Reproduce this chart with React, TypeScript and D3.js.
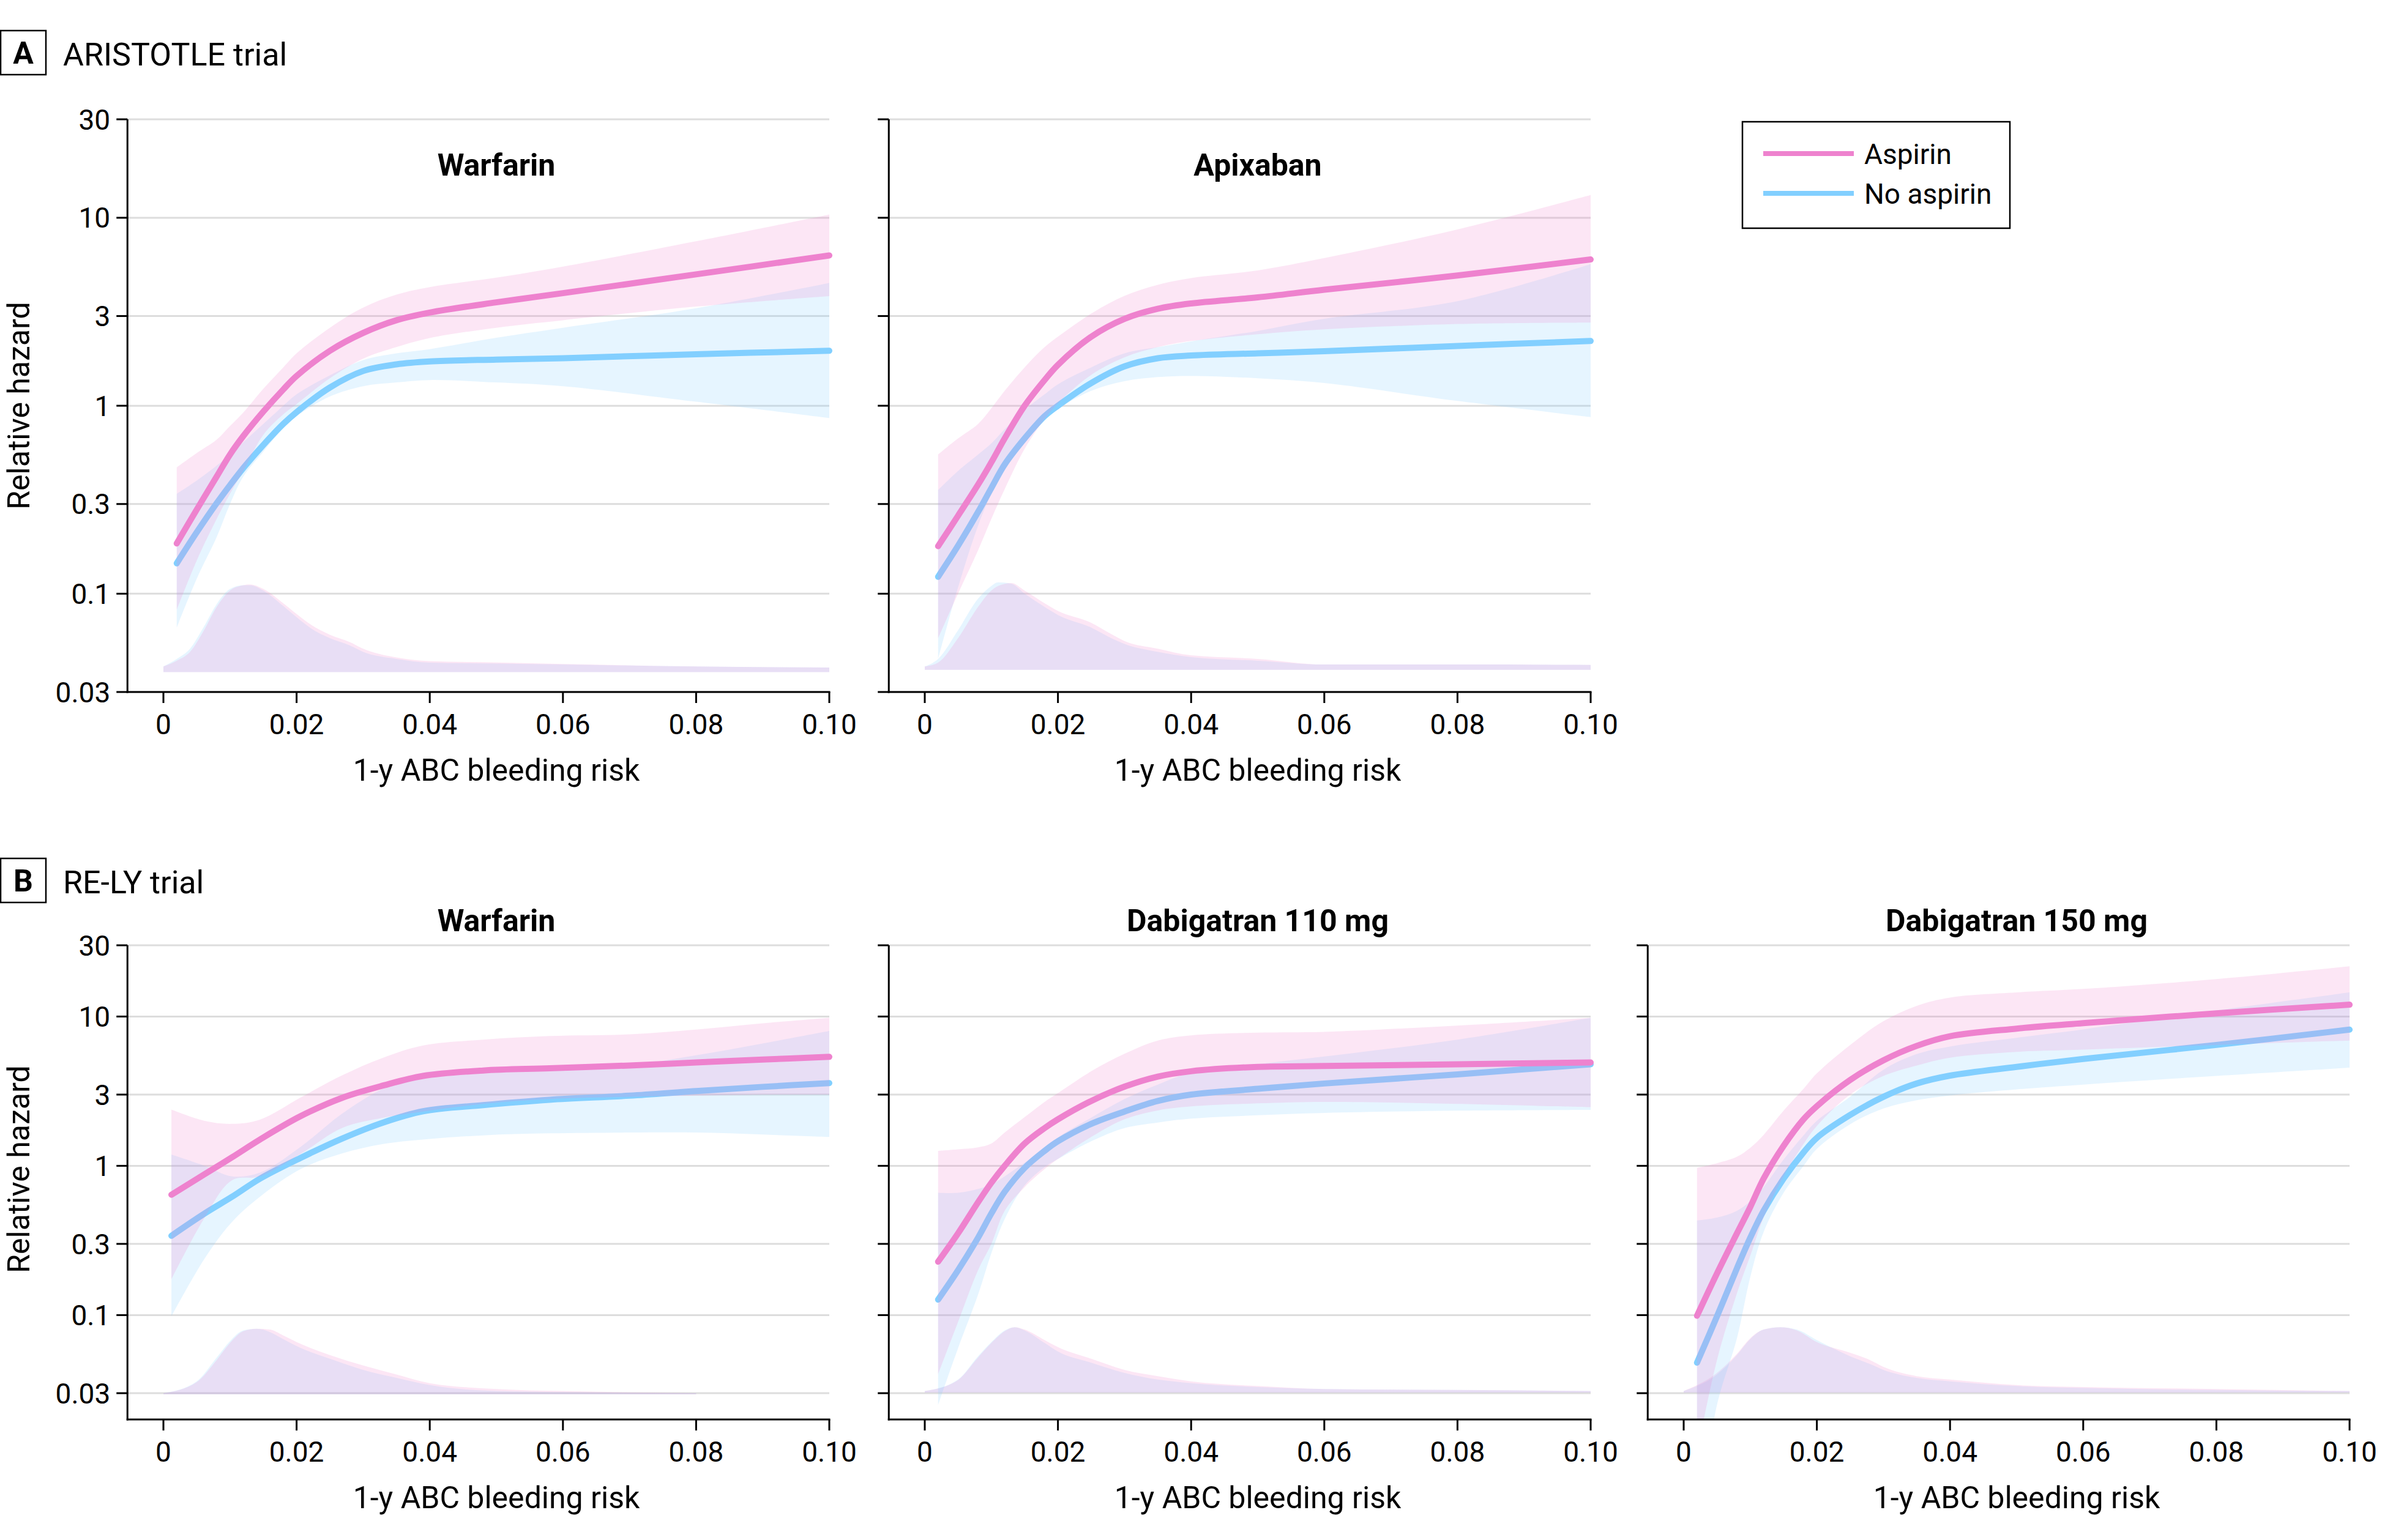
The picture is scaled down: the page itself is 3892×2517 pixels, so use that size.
import React from "react";
import * as d3 from "d3";

// ---------- ticks ----------
const xTickValues = [0, 0.02, 0.04, 0.06, 0.08, 0.1];
const xTickLabels = ["0", "0.02", "0.04", "0.06", "0.08", "0.10"];
const yTickValuesA = [0.03, 0.1, 0.3, 1, 3, 10, 33.4];
const yTickValuesB = [0.03, 0.1, 0.3, 1, 3, 10, 30];
const yTickLabels = ["0.03", "0.1", "0.3", "1", "3", "10", "30"];

// ---------- A: ARISTOTLE, Warfarin ----------
const aWarX = [0.002, 0.005, 0.008, 0.01, 0.012, 0.015, 0.018, 0.02, 0.025, 0.03, 0.035, 0.04, 0.05, 0.06, 0.08, 0.1];
const aWarAsp = [0.185, 0.28, 0.42, 0.55, 0.69, 0.93, 1.22, 1.44, 1.96, 2.44, 2.85, 3.13, 3.55, 3.97, 5.0, 6.3];
const aWarAspLo = [0.082, 0.15, 0.25, 0.34, 0.45, 0.7, 0.9, 1.02, 1.4, 1.78, 2.05, 2.29, 2.6, 2.85, 3.37, 3.83];
const aWarAspHi = [0.47, 0.56, 0.66, 0.78, 0.92, 1.23, 1.6, 1.9, 2.6, 3.33, 3.9, 4.28, 4.8, 5.5, 7.5, 10.4];
const aWarNo = [0.145, 0.212, 0.303, 0.378, 0.466, 0.618, 0.8, 0.925, 1.25, 1.53, 1.66, 1.72, 1.76, 1.79, 1.88, 1.96];
const aWarNoLo = [0.066, 0.12, 0.2, 0.3, 0.42, 0.57, 0.76, 0.88, 1.12, 1.27, 1.33, 1.37, 1.33, 1.27, 1.05, 0.86];
const aWarNoHi = [0.34, 0.4, 0.48, 0.55, 0.64, 0.8, 1.0, 1.15, 1.45, 1.75, 1.9, 2.0, 2.3, 2.6, 3.3, 4.5];
const aWarDensX = [0, 0.002, 0.004, 0.006, 0.008, 0.01, 0.012, 0.013, 0.015, 0.018, 0.02, 0.022, 0.025, 0.028, 0.03, 0.035, 0.04, 0.05, 0.06, 0.08, 0.1];
const aWarDensAsp = [0.041, 0.044, 0.049, 0.063, 0.085, 0.104, 0.111, 0.112, 0.106, 0.089, 0.078, 0.069, 0.0605, 0.0553, 0.051, 0.0458, 0.0438, 0.0431, 0.0423, 0.041, 0.0405];
const aWarDensNo = [0.041, 0.045, 0.051, 0.066, 0.088, 0.106, 0.111, 0.111, 0.104, 0.086, 0.075, 0.066, 0.058, 0.053, 0.049, 0.045, 0.043, 0.0425, 0.042, 0.041, 0.0405];

// ---------- A: ARISTOTLE, Apixaban ----------
const aApiX = [0.002, 0.005, 0.008, 0.01, 0.012, 0.015, 0.018, 0.02, 0.025, 0.03, 0.035, 0.04, 0.05, 0.06, 0.08, 0.1];
const aApiAsp = [0.179, 0.26, 0.38, 0.5, 0.67, 1.0, 1.37, 1.65, 2.33, 2.9, 3.28, 3.5, 3.77, 4.14, 4.93, 6.0];
const aApiAspLo = [0.058, 0.1, 0.17, 0.25, 0.36, 0.59, 0.85, 1.03, 1.46, 1.81, 2.05, 2.21, 2.4, 2.55, 2.72, 2.77];
const aApiAspHi = [0.55, 0.67, 0.8, 0.97, 1.2, 1.6, 2.05, 2.33, 3.09, 3.84, 4.4, 4.78, 5.25, 6.1, 8.66, 13.2];
const aApiNo = [0.123, 0.18, 0.272, 0.365, 0.487, 0.67, 0.88, 1.0, 1.32, 1.62, 1.79, 1.85, 1.9, 1.95, 2.08, 2.21];
const aApiNoLo = [0.045, 0.108, 0.23, 0.34, 0.46, 0.64, 0.84, 0.96, 1.2, 1.35, 1.42, 1.44, 1.4, 1.32, 1.06, 0.87];
const aApiNoHi = [0.356, 0.45, 0.55, 0.63, 0.75, 0.95, 1.15, 1.3, 1.6, 1.9, 2.05, 2.2, 2.5, 2.9, 3.6, 5.66];
const aApiDensX = [0, 0.002, 0.005, 0.008, 0.01, 0.011, 0.013, 0.015, 0.018, 0.02, 0.025, 0.028, 0.03, 0.035, 0.04, 0.05, 0.06, 0.08, 0.1];
const aApiDensAsp = [0.041, 0.043, 0.058, 0.085, 0.104, 0.11, 0.114, 0.104, 0.089, 0.081, 0.07, 0.061, 0.056, 0.051, 0.047, 0.045, 0.042, 0.042, 0.0418];
const aApiDensNo = [0.041, 0.045, 0.064, 0.094, 0.11, 0.115, 0.113, 0.1, 0.085, 0.077, 0.066, 0.058, 0.054, 0.049, 0.046, 0.044, 0.042, 0.042, 0.0418];

// ---------- B: RE-LY, Warfarin ----------
const bWarX = [0.0012, 0.0062, 0.0103, 0.0145, 0.0206, 0.0268, 0.033, 0.039, 0.048, 0.058, 0.07, 0.08, 0.09, 0.1];
const bWarAsp = [0.64, 0.88, 1.14, 1.5, 2.15, 2.85, 3.45, 4.0, 4.35, 4.5, 4.7, 4.92, 5.15, 5.37];
const bWarAspLo = [0.174, 0.45, 0.8, 0.85, 1.2, 1.79, 2.1, 2.31, 2.6, 2.8, 2.9, 2.95, 3.0, 3.0];
const bWarAspHi = [2.38, 2.0, 1.91, 2.04, 2.87, 4.03, 5.3, 6.4, 7.0, 7.4, 7.6, 8.17, 9.0, 9.8];
const bWarNo = [0.34, 0.48, 0.62, 0.82, 1.13, 1.52, 1.95, 2.32, 2.55, 2.77, 2.95, 3.17, 3.38, 3.58];
const bWarNoLo = [0.098, 0.24, 0.42, 0.62, 0.95, 1.21, 1.4, 1.5, 1.6, 1.65, 1.67, 1.67, 1.62, 1.56];
const bWarNoHi = [1.19, 1.0, 0.85, 0.9, 1.34, 2.23, 3.3, 4.2, 4.35, 4.4, 4.7, 5.5, 6.6, 8.0];
const bWarDensX = [0, 0.005, 0.008, 0.01, 0.012, 0.014, 0.016, 0.018, 0.02, 0.025, 0.03, 0.035, 0.04, 0.05, 0.06, 0.08];
const bWarDensAsp = [0.03, 0.0356, 0.05, 0.065, 0.078, 0.081, 0.08, 0.073, 0.066, 0.054, 0.046, 0.04, 0.035, 0.032, 0.031, 0.03];
const bWarDensNo = [0.03, 0.036, 0.052, 0.067, 0.079, 0.081, 0.077, 0.069, 0.062, 0.051, 0.043, 0.038, 0.034, 0.031, 0.0305, 0.03];

// ---------- B: RE-LY, Dabigatran 110 mg ----------
const bD110X = [0.002, 0.005, 0.008, 0.01, 0.012, 0.015, 0.018, 0.02, 0.025, 0.03, 0.035, 0.04, 0.05, 0.06, 0.08, 0.1];
const bD110Asp = [0.228, 0.353, 0.57, 0.77, 1.0, 1.41, 1.79, 2.05, 2.72, 3.39, 3.96, 4.3, 4.6, 4.66, 4.79, 4.92];
const bD110AspLo = [0.04, 0.09, 0.2, 0.3, 0.5, 0.72, 0.95, 1.11, 1.56, 2.05, 2.35, 2.5, 2.62, 2.68, 2.6, 2.47];
const bD110AspHi = [1.26, 1.29, 1.33, 1.41, 1.67, 2.12, 2.68, 3.07, 4.3, 5.63, 6.9, 7.48, 7.8, 7.9, 8.7, 9.8];
const bD110No = [0.127, 0.2, 0.33, 0.48, 0.67, 0.97, 1.26, 1.46, 1.91, 2.31, 2.72, 3.0, 3.28, 3.56, 4.1, 4.79];
const bD110NoLo = [0.025, 0.06, 0.137, 0.26, 0.44, 0.74, 0.98, 1.11, 1.46, 1.79, 1.95, 2.07, 2.18, 2.26, 2.34, 2.37];
const bD110NoHi = [0.66, 0.66, 0.7, 0.75, 0.85, 1.05, 1.3, 1.55, 2.1, 2.8, 3.5, 4.2, 4.8, 5.4, 7.0, 9.8];
const bD110DensX = [0, 0.005, 0.008, 0.01, 0.012, 0.0135, 0.015, 0.018, 0.02, 0.025, 0.03, 0.035, 0.04, 0.05, 0.06, 0.08, 0.1];
const bD110DensAsp = [0.031, 0.0368, 0.052, 0.065, 0.078, 0.083, 0.08, 0.068, 0.061, 0.051, 0.043, 0.039, 0.036, 0.0335, 0.032, 0.0315, 0.031];
const bD110DensNo = [0.031, 0.037, 0.053, 0.066, 0.079, 0.083, 0.079, 0.065, 0.057, 0.048, 0.041, 0.037, 0.035, 0.033, 0.032, 0.0315, 0.031];

// ---------- B: RE-LY, Dabigatran 150 mg ----------
const bD150X = [0.002, 0.005, 0.008, 0.01, 0.012, 0.015, 0.018, 0.02, 0.025, 0.03, 0.035, 0.04, 0.05, 0.06, 0.08, 0.1];
const bD150Asp = [0.099, 0.19, 0.353, 0.53, 0.82, 1.36, 2.05, 2.51, 3.76, 5.09, 6.36, 7.38, 8.3, 9.03, 10.5, 12.0];
const bD150AspLo = [0.012, 0.05, 0.14, 0.25, 0.45, 0.85, 1.4, 1.85, 3.0, 4.0, 4.7, 5.3, 5.8, 6.0, 6.45, 6.9];
const bD150AspHi = [0.97, 1.04, 1.15, 1.32, 1.61, 2.34, 3.28, 4.16, 6.45, 9.3, 11.8, 13.4, 14.5, 15.3, 17.8, 21.7];
const bD150No = [0.048, 0.098, 0.206, 0.33, 0.5, 0.82, 1.23, 1.54, 2.19, 2.9, 3.56, 4.02, 4.6, 5.2, 6.45, 8.17];
const bD150NoLo = [0.004, 0.025, 0.07, 0.18, 0.36, 0.66, 1.0, 1.3, 1.9, 2.42, 2.75, 2.96, 3.25, 3.5, 4.0, 4.54];
const bD150NoHi = [0.43, 0.45, 0.5, 0.58, 0.72, 1.1, 1.6, 2.0, 2.9, 4.4, 5.6, 6.3, 7.2, 8.2, 11.0, 14.5];
const bD150DensX = [0, 0.005, 0.008, 0.01, 0.012, 0.0145, 0.017, 0.02, 0.025, 0.028, 0.03, 0.035, 0.04, 0.05, 0.06, 0.08, 0.1];
const bD150DensAsp = [0.031, 0.041, 0.055, 0.07, 0.08, 0.083, 0.079, 0.066, 0.056, 0.05, 0.045, 0.039, 0.037, 0.034, 0.033, 0.032, 0.031];
const bD150DensNo = [0.031, 0.04, 0.054, 0.069, 0.08, 0.083, 0.08, 0.068, 0.053, 0.047, 0.043, 0.038, 0.036, 0.0335, 0.0325, 0.0315, 0.031];

const densityBaseA = [0.0383, 0.0394];
const densityBaseB = [0.0295, 0.0303, 0.0303];

const panelTitles = ["Warfarin", "Apixaban", "Warfarin", "Dabigatran 110 mg", "Dabigatran 150 mg"];
const legendLabels = ["Aspirin", "No aspirin"];

// ---------- style ----------
const PINK = "#EE82CE";
const BLUE = "#82CFFF";
const GRID = "#DDDDDD";
const FONT = "Roboto, 'Liberation Sans', sans-serif";
const BAND_OP = 0.2;

const colX0 = [267, 1511, 2751];
const PW = 1088;
const rowA = { top: 195, bottom: 1131, domain: [0.03, 33.4] as [number, number], ticks: yTickValuesA };
const rowB = { top: 1545, bottom: 2320, domain: [0.02, 30] as [number, number], ticks: yTickValuesB };

type Panel = {
  key: string; row: typeof rowA; col: number; title: string; titleY: number;
  x: number[]; asp: number[]; aspLo: number[]; aspHi: number[];
  no: number[]; noLo: number[]; noHi: number[];
  dx: number[]; dAsp: number[]; dNo: number[]; dBase: number;
};

const panels: Panel[] = [
  { key: "aw", row: rowA, col: 0, title: panelTitles[0], titleY: 287, x: aWarX, asp: aWarAsp, aspLo: aWarAspLo, aspHi: aWarAspHi, no: aWarNo, noLo: aWarNoLo, noHi: aWarNoHi, dx: aWarDensX, dAsp: aWarDensAsp, dNo: aWarDensNo, dBase: densityBaseA[0] },
  { key: "aa", row: rowA, col: 1, title: panelTitles[1], titleY: 287, x: aApiX, asp: aApiAsp, aspLo: aApiAspLo, aspHi: aApiAspHi, no: aApiNo, noLo: aApiNoLo, noHi: aApiNoHi, dx: aApiDensX, dAsp: aApiDensAsp, dNo: aApiDensNo, dBase: densityBaseA[1] },
  { key: "bw", row: rowB, col: 0, title: panelTitles[2], titleY: 1522, x: bWarX, asp: bWarAsp, aspLo: bWarAspLo, aspHi: bWarAspHi, no: bWarNo, noLo: bWarNoLo, noHi: bWarNoHi, dx: bWarDensX, dAsp: bWarDensAsp, dNo: bWarDensNo, dBase: densityBaseB[0] },
  { key: "b110", row: rowB, col: 1, title: panelTitles[3], titleY: 1522, x: bD110X, asp: bD110Asp, aspLo: bD110AspLo, aspHi: bD110AspHi, no: bD110No, noLo: bD110NoLo, noHi: bD110NoHi, dx: bD110DensX, dAsp: bD110DensAsp, dNo: bD110DensNo, dBase: densityBaseB[1] },
  { key: "b150", row: rowB, col: 2, title: panelTitles[4], titleY: 1522, x: bD150X, asp: bD150Asp, aspLo: bD150AspLo, aspHi: bD150AspHi, no: bD150No, noLo: bD150NoLo, noHi: bD150NoHi, dx: bD150DensX, dAsp: bD150DensAsp, dNo: bD150DensNo, dBase: densityBaseB[2] },
];

function PanelView({ p }: { p: Panel }) {
  const x0 = colX0[p.col];
  const xs = d3.scaleLinear().domain([0, 0.1]).range([x0, x0 + PW]);
  const ys = d3.scaleLog().domain(p.row.domain).range([p.row.bottom, p.row.top]);
  const axisX = xs(-0.0054);
  const xEnd = xs(0.1);
  const curve = d3.curveCatmullRom.alpha(0.5);

  const band = (lo: number[], hi: number[]) =>
    d3.area<number>().x((_, i) => xs(p.x[i])).y0((_, i) => ys(Math.max(lo[i], 0.001))).y1((_, i) => ys(hi[i])).curve(curve)(p.x) || "";
  const line = (v: number[]) =>
    d3.line<number>().x((_, i) => xs(p.x[i])).y((_, i) => ys(v[i])).curve(curve)(p.x) || "";
  const dens = (v: number[]) =>
    d3.area<number>().x((_, i) => xs(p.dx[i])).y0(ys(p.dBase)).y1((_, i) => ys(v[i])).curve(d3.curveMonotoneX)(p.dx) || "";

  const clipId = "clip-" + p.key;
  const yTop = p.row.top;
  const yBot = p.row.bottom;
  const labelCenter = (ys(0.03) + ys(p.row.ticks[p.row.ticks.length - 1])) / 2;
  const showYLabels = p.col === 0;

  return (
    <g>
      <defs>
        <clipPath id={clipId}>
          <rect x={axisX} y={yTop - 200} width={PW + 200} height={yBot - yTop + 200} />
        </clipPath>
      </defs>
      {p.row.ticks.map((t, i) => (
        <line key={"g" + i} x1={axisX} x2={xEnd} y1={ys(t)} y2={ys(t)} stroke={GRID} strokeWidth={3} />
      ))}
      <g clipPath={`url(#${clipId})`}>
        <path d={dens(p.dNo)} fill={BLUE} fillOpacity={BAND_OP} />
        <path d={dens(p.dAsp)} fill={PINK} fillOpacity={BAND_OP} />
        <path d={band(p.noLo, p.noHi)} fill={BLUE} fillOpacity={BAND_OP} />
        <path d={line(p.no)} fill="none" stroke={BLUE} strokeWidth={10} strokeLinecap="round" />
        <path d={band(p.aspLo, p.aspHi)} fill={PINK} fillOpacity={BAND_OP} />
        <path d={line(p.asp)} fill="none" stroke={PINK} strokeWidth={10} strokeLinecap="round" />
      </g>
      <line x1={axisX} x2={axisX} y1={yTop} y2={yBot + 1.5} stroke="#000" strokeWidth={3} />
      <line x1={axisX - 1.5} x2={xEnd + 1.5} y1={yBot} y2={yBot} stroke="#000" strokeWidth={3} />
      {p.row.ticks.map((t, i) => (
        <g key={"yt" + i}>
          <line x1={axisX - 18} x2={axisX} y1={ys(t)} y2={ys(t)} stroke="#000" strokeWidth={3} />
          {showYLabels && (
            <text x={axisX - 28} y={ys(t)} dy="0.36em" textAnchor="end" fontFamily={FONT} fontSize={46} fill="#000">
              {yTickLabels[i]}
            </text>
          )}
        </g>
      ))}
      {xTickValues.map((t, i) => (
        <g key={"xt" + i}>
          <line x1={xs(t)} x2={xs(t)} y1={yBot} y2={yBot + 18} stroke="#000" strokeWidth={3} />
          <text x={xs(t)} y={yBot + 69} textAnchor="middle" fontFamily={FONT} fontSize={46} fill="#000">
            {xTickLabels[i]}
          </text>
        </g>
      ))}
      <text x={xs(0.05)} y={yBot + 145} textAnchor="middle" fontFamily={FONT} fontSize={50} fill="#000">
        1-y ABC bleeding risk
      </text>
      <text x={xs(0.05)} y={p.titleY} textAnchor="middle" fontFamily={FONT} fontSize={50} fontWeight="bold" fill="#000">
        {p.title}
      </text>
      {showYLabels && (
        <text transform={`translate(48,${labelCenter}) rotate(-90)`} textAnchor="middle" fontFamily={FONT} fontSize={50} fill="#000">
          Relative hazard
        </text>
      )}
    </g>
  );
}

function RowLabel({ letter, text, y }: { letter: string; text: string; y: number }) {
  return (
    <g>
      <rect x={1} y={y} width={74} height={72} fill="none" stroke="#000" strokeWidth={2.5} />
      <text x={38} y={y + 54} textAnchor="middle" fontFamily={FONT} fontSize={50} fontWeight="bold" fill="#000">
        {letter}
      </text>
      <text x={103} y={y + 57} fontFamily={FONT} fontSize={52} fill="#000">
        {text}
      </text>
    </g>
  );
}

export default function App() {
  const legendColors = [PINK, BLUE];
  return (
    <svg width={3892} height={2517} style={{ position: "absolute", left: 0, top: 0, background: "#fff" }}>
      <rect x={0} y={0} width={3892} height={2517} fill="#fff" />
      <RowLabel letter="A" text="ARISTOTLE trial" y={50} />
      <RowLabel letter="B" text="RE-LY trial" y={1403} />
      {panels.map((p) => (
        <PanelView key={p.key} p={p} />
      ))}
      <g>
        <rect x={2847} y={199} width={437} height={174} fill="#fff" stroke="#000" strokeWidth={2.5} />
        {legendLabels.map((l, i) => (
          <g key={l}>
            <line x1={2881} x2={3029} y1={251 + i * 65} y2={251 + i * 65} stroke={legendColors[i]} strokeWidth={8} />
            <text x={3046} y={251 + i * 65} dy="0.36em" fontFamily={FONT} fontSize={46} fill="#000">
              {l}
            </text>
          </g>
        ))}
      </g>
    </svg>
  );
}
